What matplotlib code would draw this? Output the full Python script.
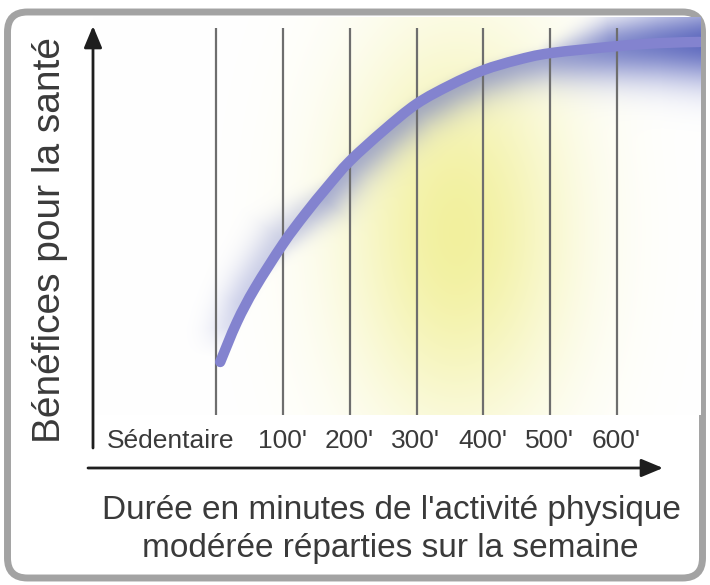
import numpy as np
import matplotlib
matplotlib.use("Agg")
import matplotlib.pyplot as plt
from matplotlib.patches import FancyBboxPatch, PathPatch
from matplotlib.path import Path

plt.rcParams["font.family"] = ["Liberation Sans", "DejaVu Sans"]

# ==========================================================
# DONNÉES (lues sur le schéma)
# ==========================================================

minutes = [0, 100, 200, 300, 400, 500, 600]
tick_labels = ["Sédentaire", "100'", "200'", "300'", "400'", "500'", "600'"]

# courbe bénéfices / durée (minutes, bénéfice en % de l'échelle)
curve_min = [6, 31, 58, 100, 133, 166, 200, 251, 300, 351, 400, 450, 500, 600, 664, 724]
curve_ben = [13.7, 24.0, 32.8, 44.2, 51.9, 58.9, 65.6, 73.6, 80.4, 85.3, 89.1, 91.7,
             93.5, 95.3, 96.1, 96.4]

y_title = "Bénéfices pour la santé"
x_title_1 = "Durée en minutes de l'activité physique"
x_title_2 = "modérée réparties sur la semaine"

# ==========================================================
# MISE EN PAGE (pixels de la figure 710 x 585)
# ==========================================================

W, H = 710, 585
AX_L, AX_R, AX_T, AX_B = 93, 701, 17, 415
X0_PX, PX_PER_MIN = 216.2, 0.668
PX_PER_UNIT = 3.87

fig = plt.figure(figsize=(W / 100, H / 100), dpi=100)
fig.patch.set_facecolor("white")

# cadre arrondi gris
frame = FancyBboxPatch((0.075, 0.07), 6.95, 5.66,
                       boxstyle="round,pad=0,rounding_size=0.2",
                       transform=fig.dpi_scale_trans,
                       fc="white", ec="#a3a3a3", lw=5, zorder=-1)
fig.patches.append(frame)

ax = fig.add_axes([AX_L / W, 1 - AX_B / H, (AX_R - AX_L) / W, (AX_B - AX_T) / H])
ax.set_zorder(1)
ax.set_xlim((AX_L - X0_PX) / PX_PER_MIN, (AX_R - X0_PX) / PX_PER_MIN)
ax.set_ylim(0, (AX_B - AX_T) / PX_PER_UNIT)
ax.set_axis_off()

# ==========================================================
# HALOS (jaune + bleu autour de la courbe)
# ==========================================================

nx, ny = AX_R - AX_L, AX_B - AX_T
gx, gy = np.meshgrid(AX_L + 0.5 + np.arange(nx), (H - AX_B) + 0.5 + np.arange(ny))

# halo jaune
cy_, sx_, sy_ = H - 232, 80.0, 138.0
a_y = 0.76 * np.exp(-((gx - 457) ** 2) / (2 * sx_ ** 2) - ((gy - cy_) ** 2) / (2 * sy_ ** 2))
yel = np.array([238, 236, 128]) / 255
img = np.ones((ny, nx, 3)) * (1 - a_y[..., None]) + yel * a_y[..., None]

# halo bleu : distance à la courbe et côté (haut-gauche / bas-droite)
pts = ax.transData.transform(np.column_stack([curve_min, curve_ben]))
best = np.full(gx.shape, np.inf)
side = np.zeros(gx.shape)
xnear = np.zeros(gx.shape)
for (x0, y0), (x1, y1) in zip(pts[:-1], pts[1:]):
    dx, dy = x1 - x0, y1 - y0
    t = np.clip(((gx - x0) * dx + (gy - y0) * dy) / (dx * dx + dy * dy), 0, 1)
    d = np.hypot(gx - (x0 + t * dx), gy - (y0 + t * dy))
    cr = dx * (gy - y0) - dy * (gx - x0)
    m = d < best
    best[m] = d[m]
    side[m] = np.sign(cr[m])
    xnear[m] = (x0 + t * dx)[m]

# pas de halo sous le début de la courbe
start_fade = np.clip((gy - pts[0][1] - 4) / 30, 0, 1)

left_amp = np.interp(xnear, [220, 245, 285, 330, 540, 610, 700], [0.1, 0.3, 0.3, 0.12, 0.12, 0.7, 0.92])
left_sig = np.interp(xnear, [220, 285, 330, 540, 610, 700], [24, 26, 7, 7, 26, 36])
right_amp = np.interp(xnear, [220, 265, 320, 540, 620, 700], [0.05, 0.05, 0.5, 0.55, 0.75, 0.92])
right_sig = np.interp(xnear, [220, 265, 320, 540, 700], [5, 5, 26, 28, 40])
amp = np.where(side > 0, left_amp, right_amp) * start_fade
sig = np.where(side > 0, left_sig, right_sig)
a_b = amp * np.exp(-(best / sig) ** 2)
blue = np.array([84, 96, 186]) / 255
img = img * (1 - a_b[..., None]) + blue * a_b[..., None]

ax.imshow(img, extent=(*ax.get_xlim(), *ax.get_ylim()), origin="lower",
          aspect="auto", interpolation="bilinear", zorder=0)

# ==========================================================
# LIGNES + COURBE
# ==========================================================

ax.vlines(minutes, 0, 100, colors="#6e6e6e", lw=1.6, zorder=2)

# courbe lissée (Bézier passant par les points lus)
P = np.column_stack([curve_min, curve_ben])
Pe = np.vstack([P[0], P, P[-1]])
verts, codes = [P[0]], [Path.MOVETO]
for i in range(len(P) - 1):
    c1 = Pe[i + 1] + (Pe[i + 2] - Pe[i]) / 6
    c2 = Pe[i + 2] - (Pe[i + 3] - Pe[i + 1]) / 6
    verts += [c1, c2, Pe[i + 2]]
    codes += [Path.CURVE4] * 3
ax.add_patch(PathPatch(Path(verts, codes), fc="none", ec="#8383cf", lw=7.5,
                       capstyle="round", joinstyle="round", zorder=3))

for m, lab in zip(minutes, tick_labels):
    dx = -46 if m == 0 else -1
    ax.annotate(lab, xy=(m, 0), xytext=(dx, -26), textcoords="offset pixels",
                ha="center", va="center", fontsize=19, color="#3a3a3a",
                annotation_clip=False)

# ==========================================================
# FLÈCHES ET TITRES
# ==========================================================

arrow = dict(arrowstyle="-|>,head_length=0.6,head_width=0.25", color="#1e1e1e",
             lw=2.0, mutation_scale=22, shrinkA=0, shrinkB=0)
ax.annotate("", xy=(93 / W, 1 - 26 / H), xytext=(93 / W, 1 - 448 / H),
            xycoords="figure fraction", arrowprops=arrow, annotation_clip=False)
ax.annotate("", xy=(663 / W, 1 - 468 / H), xytext=(88 / W, 1 - 468 / H),
            xycoords="figure fraction", arrowprops=arrow, annotation_clip=False)

fig.text(50 / W, 1 - 240 / H, y_title, rotation=90, ha="center", va="center",
         fontsize=28, color="#3a3a3a")
fig.text(391 / W, 1 - 510 / H, x_title_1, ha="center", va="center",
         fontsize=24, color="#3a3a3a")
fig.text(390 / W, 1 - 548 / H, x_title_2, ha="center", va="center",
         fontsize=24, color="#3a3a3a")

fig.savefig("out.png", dpi=100)
